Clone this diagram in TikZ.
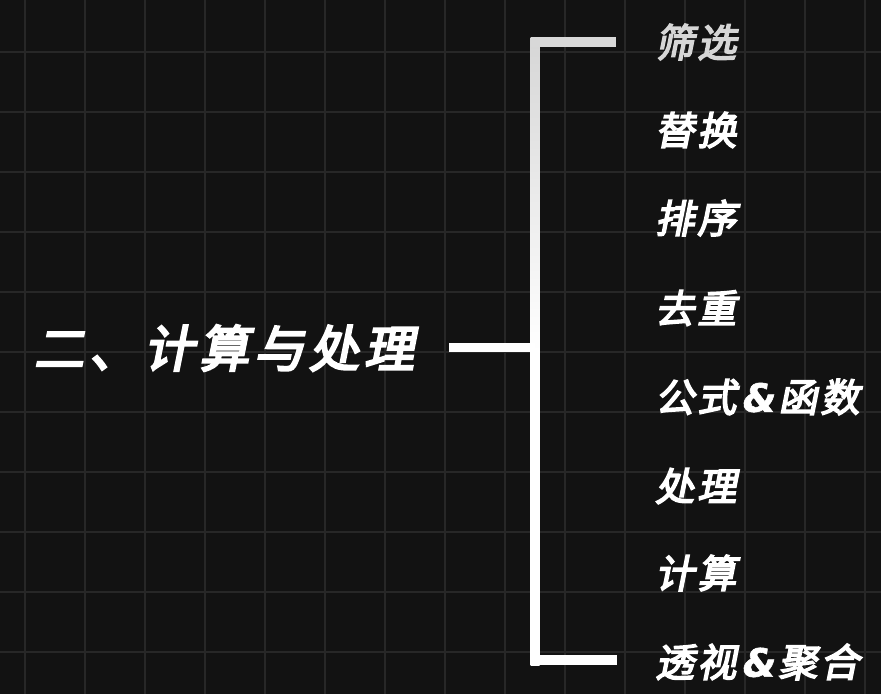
\documentclass[tikz,border=0pt]{standalone}
\usepackage{fontspec}
\newfontfamily\cjk[FakeSlant=0.2,FakeBold=4,LetterSpace=8]{Noto Sans CJK SC}
\newfontfamily\cjkt[FakeSlant=0.2,FakeBold=4.5,LetterSpace=10]{Noto Sans CJK SC}
\newfontfamily\ampf[FakeSlant=0.15,FakeBold=1.5]{DejaVu Sans Bold}
\newcommand{\amp}{\makebox[42pt][c]{\ampf\fontsize{39}{39}\selectfont\&}}
\definecolor{bg}{HTML}{121212}
\definecolor{gridc}{HTML}{272727}
\definecolor{topgray}{HTML}{D6D6D6}
\begin{document}
\begin{tikzpicture}[x=1pt,y=-1pt,
  item/.style={anchor=west,inner sep=0pt,text=white,font=\cjk\fontsize{39}{39}\selectfont},
  title/.style={anchor=center,inner sep=0pt,text=white,font=\cjkt\fontsize{50}{50}\selectfont},
  gridline/.style={draw=gridc,line width=1.6pt}]
\fill[bg] (0,0) rectangle (881,694);
\useasboundingbox (0,0) rectangle (881,694);
\foreach \gx in {25,85,...,865} \draw[gridline] (\gx,0) -- (\gx,694);
\foreach \gy in {52,112,...,652} \draw[gridline] (0,\gy) -- (881,\gy);
% title
\node[title] (t) at (224,348) {二、计算与处理};
% bracket
\coordinate (m0) at (449,347.5);
\coordinate (m1) at (535,347.5);
\shade[top color=topgray,bottom color=white,middle color=white] (530.5,37) rectangle (539.5,665);
\fill[topgray!95!white] (530.5,37) rectangle (616,47);
\fill[white] (530.5,655) rectangle (617,665);
\draw[white,line width=9pt] (m0) -- (m1);
% items
\node[item,text=topgray] (i1) at (655,42) {筛选};
\node[item] (i2) at (655,130) {替换};
\node[item] (i3) at (655,218) {排序};
\node[item] (i4) at (655,308) {去重};
\node[item] (i5) at (655,397) {公式\amp 函数};
\node[item] (i6) at (655,486) {处理};
\node[item] (i7) at (655,573) {计算};
\node[item] (i8) at (655,662) {透视\amp 聚合};
\end{tikzpicture}
\end{document}
